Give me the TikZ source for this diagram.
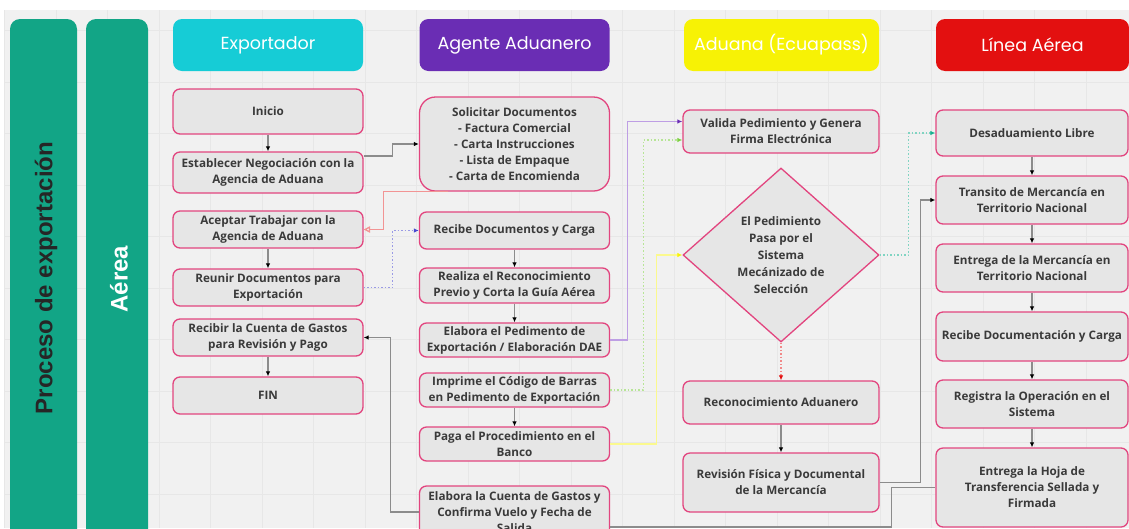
\documentclass[tikz,border=0pt]{standalone}
\usepackage{fontspec}
\setmainfont{Open Sans}
\newfontfamily\cabfont{Poppins}
\newfontfamily\carrilfont{Liberation Sans}
\usetikzlibrary{arrows.meta,shapes.geometric}
\definecolor{fondo}{HTML}{F1F1F1}
\definecolor{rejilla}{HTML}{E7E7E7}
\definecolor{caja}{HTML}{E6E6E6}
\definecolor{borde}{HTML}{E2457F}
\definecolor{texto}{HTML}{3A3A3A}
\definecolor{verdecarril}{HTML}{12A586}
\definecolor{cian}{HTML}{16CCD6}
\definecolor{morado}{HTML}{6A2DB4}
\definecolor{amarillo}{HTML}{F7F205}
\definecolor{rojo}{HTML}{E31010}
\definecolor{linea}{HTML}{8C8C8C}
\definecolor{rosa}{HTML}{F29494}
\definecolor{azul}{HTML}{4848D0}
\definecolor{lila}{HTML}{BE9EE4}
\definecolor{verde}{HTML}{7CD040}
\definecolor{turquesa}{HTML}{18B090}
\tikzset{
  paso/.style={draw=borde, line width=1.3pt, fill=caja, rounded corners=7pt,
    align=center, text=texto, inner sep=2pt,
    font=\bfseries\fontsize{11.7}{16}\selectfont},
  cabecera/.style={rounded corners=9pt, minimum width=190pt, minimum height=52pt,
    text=white, font=\cabfont\fontsize{17.5}{19}\selectfont},
  carril/.style={fill=verdecarril, rounded corners=10pt},
  punta/.style={-{Latex[length=5pt,width=4.5pt,color=#1]}},
  flecha/.style={draw=linea, line width=1.1pt, punta=black},
  conector/.style={draw=linea, line width=1.1pt},
  punteado/.style={line width=1.1pt, dash pattern=on 1.5pt off 2pt}
}

\begin{document}
\begin{tikzpicture}[x=1pt, y=-1pt]
  \useasboundingbox (0,0) rectangle (1129,528);
  \clip (0,0) rectangle (1129,528);

  % fondo con rejilla
  \fill[white] (0,0) rectangle (1129,528);
  \fill[fondo] (4,10) rectangle (1129,528);
  \foreach \gx in {4.5,56,...,1129}
    \draw[rejilla, line width=0.6pt] (\gx,10) -- (\gx,528);
  \foreach \gy in {30.5,82,...,528}
    \draw[rejilla, line width=0.6pt] (4,\gy) -- (1129,\gy);

  % carriles
  \fill[carril] (10,19) rectangle (77,560);
  \fill[carril] (86,19) rectangle (148,560);
  \node[rotate=90, text=black!85, font=\carrilfont\bfseries\fontsize{24}{24}\selectfont]
    (proceso) at (46,278) {Proceso de exportación};
  \node[rotate=90, text=white, font=\carrilfont\bfseries\fontsize{24}{24}\selectfont]
    (aerea) at (119,279) {Aérea};

  % cabeceras
  \node[cabecera, fill=cian] (exportador) at (268,45) {Exportador};
  \node[cabecera, fill=morado] (agente) at (514.5,45) {Agente Aduanero};
  \node[cabecera, fill=amarillo, minimum width=195pt] (aduana) at (781.5,45) {Aduana (Ecuapass)};
  \node[cabecera, fill=rojo, minimum width=193pt] (linea) at (1032.5,45) {Línea Aérea};

  % Exportador
  \node[paso, minimum width=190pt, minimum height=45pt] (inicio) at (268,111.5) {Inicio};
  \node[paso, minimum width=190pt, minimum height=41pt] (negociacion) at (268,172.5)
    {Establecer Negociación con la\\Agencia de Aduana};
  \node[paso, minimum width=190pt, minimum height=37pt] (aceptar) at (268,229.5)
    {Aceptar Trabajar con la\\Agencia de Aduana};
  \node[paso, minimum width=190pt, minimum height=37pt] (reunir) at (268,287.5)
    {Reunir Documentos para\\Exportación};
  \node[paso, minimum width=190pt, minimum height=37pt] (recibir) at (268,337.5)
    {Recibir la Cuenta de Gastos\\para Revisión y Pago};
  \node[paso, minimum width=190pt, minimum height=37pt] (fin) at (268,395.5) {FIN};

  % Agente Aduanero
  \node[paso, rounded corners=16pt, minimum width=190pt, minimum height=94pt] (solicitar) at (514.5,144)
    {Solicitar Documentos\\- Factura Comercial\\- Carta Instrucciones\\- Lista de Empaque\\- Carta de Encomienda};
  \node[paso, minimum width=190pt, minimum height=37pt] (recibe) at (514.5,230.5)
    {Recibe Documentos y Carga};
  \node[paso, minimum width=190pt, minimum height=35pt] (realiza) at (514.5,285.5)
    {Realiza el Reconocimiento\\Previo y Corta la Guía Aérea};
  \node[paso, minimum width=190pt, minimum height=34pt] (pedimento) at (514.5,340)
    {Elabora el Pedimento de\\Exportación / Elaboración DAE};
  \node[paso, minimum width=190pt, minimum height=34pt] (imprime) at (514.5,390)
    {Imprime el Código de Barras\\en Pedimento de Exportación};
  \node[paso, minimum width=190pt, minimum height=34pt] (paga) at (514.5,444)
    {Paga el Procedimiento en el\\Banco};
  \node[paso, minimum width=190pt, minimum height=52pt] (cuenta) at (514.5,512)
    {Elabora la Cuenta de Gastos y\\Confirma Vuelo y Fecha de\\Salida};

  % Aduana (Ecuapass)
  \node[paso, minimum width=196pt, minimum height=43pt] (valida) at (781,131.5)
    {Valida Pedimiento y Genera\\Firma Electrónica};
  \node[paso, diamond, sharp corners, inner sep=0pt, minimum width=196pt, minimum height=174pt,
    font=\bfseries\fontsize{11.7}{17}\selectfont] (seleccion) at (781,255)
    {El Pedimiento\\Pasa por el\\Sistema\\Mecánizado de\\Selección};
  \node[paso, minimum width=196pt, minimum height=43pt] (reconoc) at (781,402.5)
    {Reconocimiento Aduanero};
  \node[paso, minimum width=196pt, minimum height=59pt] (revision) at (781,482.5)
    {Revisión Física y Documental\\de la Mercancía};

  % Linea Aerea
  \node[paso, minimum width=192pt, minimum height=46pt] (desaduan) at (1032,133)
    {Desaduamiento Libre};
  \node[paso, minimum width=192pt, minimum height=48pt] (transito) at (1032,200)
    {Transito de Mercancía en\\Territorio Nacional};
  \node[paso, minimum width=192pt, minimum height=48pt] (entrega) at (1032,268)
    {Entrega de la Mercancía en\\Territorio Nacional};
  \node[paso, minimum width=192pt, minimum height=49pt] (recibedoc) at (1032,336.5)
    {Recibe Documentación y Carga};
  \node[paso, minimum width=192pt, minimum height=48pt] (registra) at (1032,404)
    {Registra la Operación en el\\Sistema};
  \node[paso, minimum width=192pt, minimum height=79pt] (hoja) at (1032,487.5)
    {Entrega la Hoja de\\Transferencia Sellada y\\Firmada};

  % flujo dentro de cada columna
  \foreach \a/\b in {inicio/negociacion, aceptar/reunir, recibir/fin,
      recibe/realiza, realiza/pedimento, imprime/paga, reconoc/revision,
      desaduan/transito, transito/entrega, entrega/recibedoc,
      recibedoc/registra, registra/hoja}
    \draw[flecha] (\a) -- (\b);

  % flujo entre columnas
  \draw[flecha] ([yshift=16.5pt]negociacion.east) -- ++(29,0) |- (solicitar.west);
  \draw[draw=rosa, line width=1.3pt, -{Triangle[open,length=6.5pt,width=6.5pt]}]
    ([xshift=-67pt]solicitar.south) -- ++(-64,0) |- (aceptar.east);
  \draw[punteado, draw=azul!55, punta=azul] (reunir.east) -- ++(29,0) |- (recibe.west);
  \draw[draw=lila, line width=1.3pt, punta=morado]
    (pedimento.east) -- ++(17,0) |- ([yshift=10pt]valida.west);
  \draw[punteado, draw=verde!55, punta=verde]
    (imprime.east) -- ++(33,0) |- ([yshift=-8.5pt]valida.west);
  \draw[draw=amarillo!45, line width=1.1pt, punta=amarillo]
    (paga.east) -- ++(46,0) |- (seleccion.west);
  \draw[punteado, draw=turquesa!55, punta=turquesa]
    (seleccion.east) -- ++(29,0) |- (desaduan.west);
  \draw[punteado, draw=rojo!50, punta=rojo] (seleccion.south) -- (reconoc.north);
  \draw[flecha] (revision.east) -- ++(41,0) |- (transito.west);
  \draw[flecha] (cuenta.west) -- ++(-28,0) |- (recibir.east);
  \draw[conector] ([yshift=-15pt]cuenta.east) -- ++(281,0) |- (hoja.west);
\end{tikzpicture}
\end{document}
